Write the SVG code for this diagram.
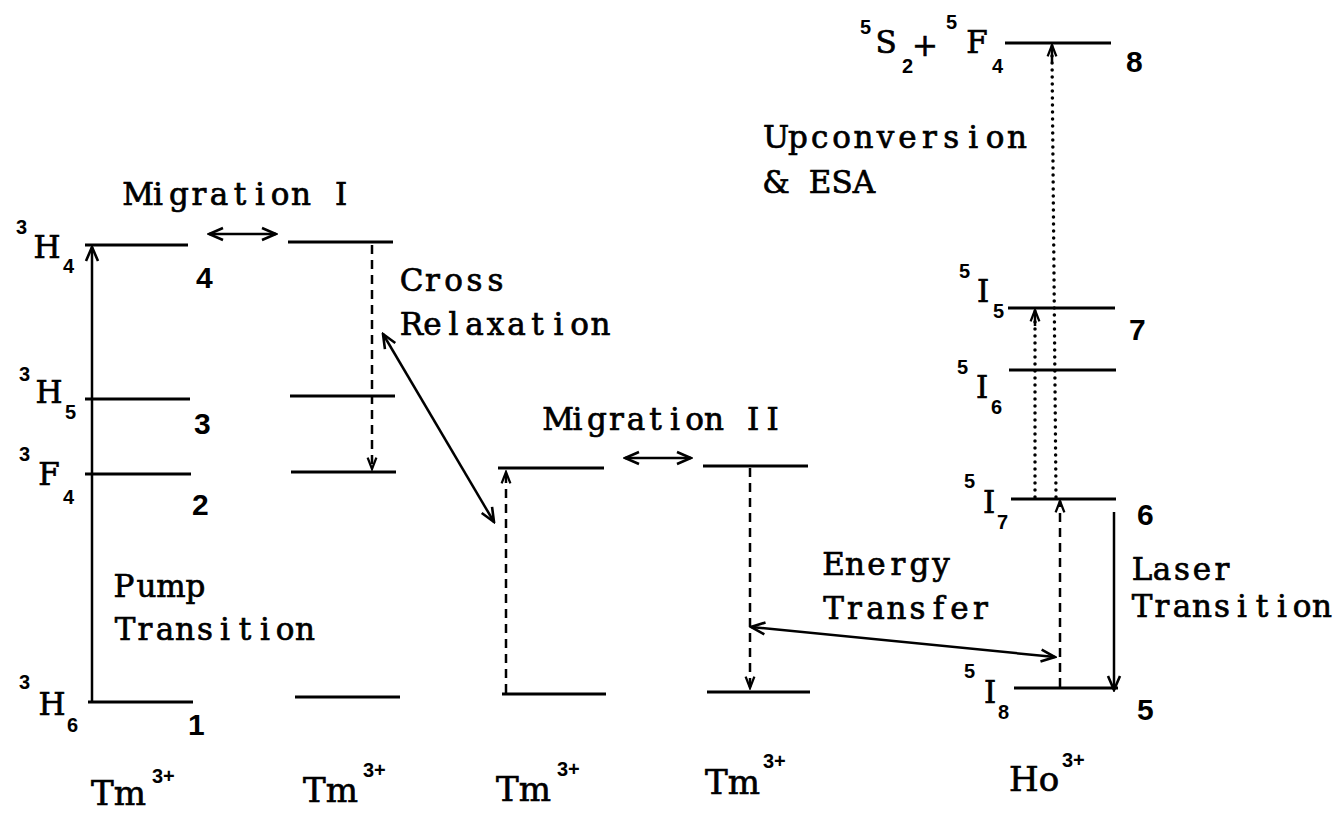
<svg xmlns="http://www.w3.org/2000/svg" width="1336" height="813" viewBox="0 0 1336 813">
<style>
.lv{stroke:#000;stroke-width:3;fill:none}
.t{font-family:"DejaVu Serif","Liberation Serif",serif;font-size:31px;fill:#000;stroke:#000;stroke-width:0.7;text-anchor:middle}
.L{font-family:"DejaVu Serif","Liberation Serif",serif;font-size:31px;fill:#000;stroke:#000;stroke-width:0.7;text-anchor:middle}
.tm{font-family:"DejaVu Serif","Liberation Serif",serif;font-size:34px;fill:#000;stroke:#000;stroke-width:0.7}
.s{font-family:"Liberation Sans",Arial,sans-serif;font-weight:bold;font-size:20px;fill:#000}
.n{font-family:"Liberation Sans",Arial,sans-serif;font-weight:bold;font-size:30px;fill:#000}
.a{stroke:#000;stroke-width:2.5;fill:none}
.d{stroke:#000;stroke-width:2.5;fill:none;stroke-dasharray:9 6}
.o{stroke:#000;stroke-width:3.5;fill:none;stroke-dasharray:0 7;stroke-linecap:round}
</style>
<defs>
<marker id="ah" viewBox="-16 -8 18 16" refX="0" refY="0" markerWidth="18" markerHeight="16" markerUnits="userSpaceOnUse" orient="auto-start-reverse">
<path d="M-14,-6 L0,0 L-14,6" fill="none" stroke="#000" stroke-width="2.6"/>
</marker>
<marker id="ahs" viewBox="-16 -8 18 16" refX="0" refY="0" markerWidth="16" markerHeight="14" markerUnits="userSpaceOnUse" orient="auto-start-reverse">
<path d="M-13,-5 L0,0 L-13,5" fill="none" stroke="#000" stroke-width="2.6"/>
</marker>
</defs>
<rect width="1336" height="813" fill="#fff"/>

<g id="tm1-4">
<line class="lv" x1="85" y1="245" x2="188" y2="245"/>
<text class="s" x="16" y="234">3</text><text class="L" x="47" y="258">H</text><text class="s" x="63" y="273">4</text>
<text class="n" x="196" y="288">4</text>
</g>
<g id="tm1-3">
<line class="lv" x1="85" y1="399" x2="190" y2="399"/>
<text class="s" x="19" y="381">3</text><text class="L" x="49" y="403">H</text><text class="s" x="65" y="419">5</text>
<text class="n" x="194" y="434">3</text>
</g>
<g id="tm1-2">
<line class="lv" x1="85" y1="474" x2="191" y2="474"/>
<text class="s" x="19" y="461">3</text><text class="L" x="49" y="485">F</text><text class="s" x="63" y="504">4</text>
<text class="n" x="192" y="515">2</text>
</g>
<g id="tm1-1">
<line class="lv" x1="88" y1="702" x2="193" y2="702"/>
<text class="s" x="19" y="689">3</text><text class="L" x="52" y="715">H</text><text class="s" x="67" y="732">6</text>
<text class="n" x="188" y="735">1</text>
</g>
<g id="tm1-label"><text class="tm" x="91" y="805">Tm</text><text class="s" x="152" y="783">3+</text></g>

<g id="tm2-4"><line class="lv" x1="288" y1="242" x2="393" y2="242"/></g>
<g id="tm2-3"><line class="lv" x1="290" y1="396" x2="395" y2="396"/></g>
<g id="tm2-2"><line class="lv" x1="291" y1="472" x2="396" y2="472"/></g>
<g id="tm2-1"><line class="lv" x1="295" y1="697" x2="400" y2="697"/></g>
<g id="tm2-label"><text class="tm" x="303" y="802">Tm</text><text class="s" x="363" y="777">3+</text></g>

<g id="tm3-2"><line class="lv" x1="498" y1="468" x2="604" y2="468"/></g>
<g id="tm3-1"><line class="lv" x1="502" y1="694" x2="606" y2="694"/></g>
<g id="tm3-label"><text class="tm" x="496" y="801">Tm</text><text class="s" x="557" y="776">3+</text></g>

<g id="tm4-2"><line class="lv" x1="703" y1="466" x2="808" y2="466"/></g>
<g id="tm4-1"><line class="lv" x1="707" y1="692" x2="810" y2="692"/></g>
<g id="tm4-label"><text class="tm" x="705" y="794">Tm</text><text class="s" x="763" y="768">3+</text></g>

<g id="ho-8">
<line class="lv" x1="1005" y1="43" x2="1111" y2="43"/>
<text class="s" x="860" y="34">5</text><text class="L" x="886" y="53">S</text><text class="s" x="902" y="73">2</text>
<text class="L" x="925" y="56">+</text>
<text class="s" x="946" y="29">5</text><text class="L" x="977" y="53">F</text><text class="s" x="992" y="73">4</text>
<text class="n" x="1126" y="72">8</text>
</g>
<g id="ho-7">
<line class="lv" x1="1008" y1="308" x2="1115" y2="308"/>
<text class="s" x="959" y="278">5</text><text class="L" x="983" y="302">I</text><text class="s" x="993" y="318">5</text>
<text class="n" x="1129" y="340">7</text>
</g>
<g id="ho-i6">
<line class="lv" x1="1009" y1="370" x2="1116" y2="370"/>
<text class="s" x="957" y="374">5</text><text class="L" x="982" y="398">I</text><text class="s" x="991" y="414">6</text>
</g>
<g id="ho-6">
<line class="lv" x1="1011" y1="499" x2="1116" y2="499"/>
<text class="s" x="964" y="488">5</text><text class="L" x="989" y="513">I</text><text class="s" x="997" y="529">7</text>
<text class="n" x="1137" y="525">6</text>
</g>
<g id="ho-5">
<line class="lv" x1="1014" y1="688" x2="1118" y2="688"/>
<text class="s" x="964" y="678">5</text><text class="L" x="990" y="703">I</text><text class="s" x="998" y="719">8</text>
<text class="n" x="1137" y="720">5</text>
</g>
<g id="ho-label"><text class="tm" x="1009" y="791">Ho</text><text class="s" x="1062" y="767">3+</text></g>

<g id="labels">
<text class="t" x="138 158 179 199 219 240 260 280 301 321 341" y="205">Migration I</text>
<text class="t" x="411.5 432.5 453.5 474.5 495.5" y="291">Cross</text>
<text class="t" x="411.5 432.5 453.5 474.5 495.5 516.5 537.5 558.5 579.5 600.5" y="335">Relaxation</text>
<text class="t" x="558 577.5 597 616.5 636 655.5 675 694.5 714 733.5 753 772.5" y="430">Migration II</text>
<text class="t" x="124 146.5 171 195.5" y="597">Pump</text>
<text class="t" x="125 145 165 185 205 225 245 265 285 305" y="640">Transition</text>
<text class="t" x="833.5 855 876.5 898 919.5 941" y="575">Energy</text>
<text class="t" x="833.5 854.5 875.5 896.5 917.5 938.5 959.5 980.5" y="619">Transfer</text>
<text class="t" x="776 797.9 819.8 841.7 863.6 885.5 907.4 929.3 951.2 973.1 995 1016.9" y="148">Upconversion</text>
<text class="t" x="776 798 820 842 864" y="193">&amp; ESA</text>
<text class="t" x="1142 1162 1182 1202 1222" y="580">Laser</text>
<text class="t" x="1142 1162 1182 1202 1222 1242 1262 1282 1302 1322" y="617">Transition</text>
</g>

<g id="connectors">
<line class="a" x1="92" y1="701" x2="92" y2="247" marker-end="url(#ah)"/>
<line class="a" x1="209" y1="234" x2="276" y2="234" marker-start="url(#ah)" marker-end="url(#ah)"/>
<line class="d" x1="372" y1="245" x2="372" y2="469" marker-end="url(#ahs)"/>
<line class="a" x1="383" y1="334" x2="494" y2="522" stroke-width="3" marker-start="url(#ah)" marker-end="url(#ah)"/>
<line class="d" x1="506" y1="693" x2="506" y2="472" marker-end="url(#ahs)"/>
<line class="a" x1="625" y1="458" x2="691" y2="458" marker-start="url(#ah)" marker-end="url(#ah)"/>
<line class="d" x1="750" y1="468" x2="750" y2="688" marker-end="url(#ahs)"/>
<line class="a" x1="751" y1="627" x2="1055" y2="657" stroke-width="3" marker-start="url(#ah)" marker-end="url(#ah)"/>
<line class="d" x1="1060" y1="687" x2="1060" y2="501" marker-end="url(#ahs)"/>
<line class="a" x1="1114" y1="512" x2="1114" y2="690" marker-end="url(#ah)"/>
<line class="o" x1="1035" y1="497" x2="1035" y2="318"/>
<path class="a" d="M1035,326 L1035,310" marker-end="url(#ahs)"/>
<line class="o" x1="1056" y1="497" x2="1052" y2="54"/>
<path class="a" d="M1052,62 L1052,45" marker-end="url(#ahs)"/>
</g>
</svg>
